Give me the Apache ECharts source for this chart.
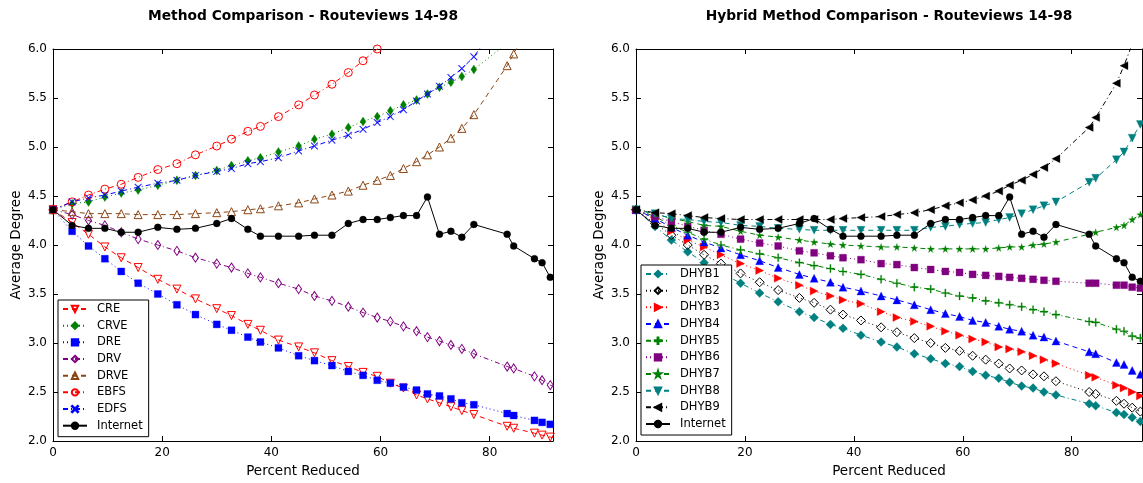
<!DOCTYPE html>
<html>
<head>
<meta charset="utf-8">
<script src="https://cdn.jsdelivr.net/npm/echarts@6/dist/echarts.min.js"></script>
<style>
html,body{margin:0;padding:0;background:#fff;}
#chart{width:1143px;height:483px;}
</style>
</head>
<body>
<div id="chart"></div>
<script>
// Percent reduced (shared x positions)
const X = [0, 3.5, 6.5, 9.5, 12.5, 15.6, 19.2, 22.7, 26.1, 30.0, 32.7, 35.7, 38.0, 41.3, 45.0, 47.9, 51.1, 54.1, 56.8, 59.4, 61.8, 64.2, 66.6, 68.6, 70.8, 72.9, 74.9, 77.1, 83.2, 84.4, 88.2, 89.6, 91.1, 92.6];

const Internet = [4.36, 4.20, 4.17, 4.17, 4.13, 4.13, 4.18, 4.16, 4.17, 4.22, 4.27, 4.16, 4.09, 4.09, 4.09, 4.10, 4.10, 4.22, 4.26, 4.26, 4.28, 4.30, 4.30, 4.49, 4.11, 4.14, 4.08, 4.21, 4.11, 3.99, 3.86, 3.82, 3.67, 3.63];

// Left chart: methods
const CRE  = [4.36, 4.23, 4.11, 3.98, 3.87, 3.77, 3.65, 3.55, 3.45, 3.35, 3.28, 3.19, 3.13, 3.03, 2.96, 2.90, 2.82, 2.76, 2.70, 2.66, 2.59, 2.54, 2.47, 2.43, 2.39, 2.35, 2.31, 2.27, 2.15, 2.13, 2.08, 2.06, 2.04, 2.02];
const CRVE = [4.36, 4.42, 4.44, 4.49, 4.53, 4.56, 4.61, 4.66, 4.71, 4.76, 4.81, 4.86, 4.89, 4.95, 5.01, 5.08, 5.13, 5.20, 5.26, 5.31, 5.37, 5.43, 5.48, 5.54, 5.61, 5.66, 5.72, 5.79, 6.06, 6.15, 6.45, 6.56, 6.70, 6.85];
const DRE  = [4.36, 4.14, 3.99, 3.86, 3.73, 3.61, 3.50, 3.39, 3.29, 3.19, 3.13, 3.06, 3.01, 2.95, 2.87, 2.82, 2.77, 2.71, 2.67, 2.62, 2.59, 2.55, 2.52, 2.48, 2.46, 2.43, 2.39, 2.37, 2.28, 2.26, 2.21, 2.19, 2.17, 2.15];
const DRV  = [4.36, 4.31, 4.25, 4.20, 4.13, 4.06, 4.00, 3.94, 3.87, 3.81, 3.77, 3.71, 3.67, 3.61, 3.55, 3.48, 3.43, 3.37, 3.31, 3.26, 3.22, 3.17, 3.12, 3.06, 3.02, 2.98, 2.94, 2.89, 2.76, 2.74, 2.66, 2.62, 2.57, 2.53];
const DRVE = [4.36, 4.34, 4.32, 4.32, 4.32, 4.31, 4.31, 4.31, 4.32, 4.33, 4.34, 4.36, 4.37, 4.40, 4.43, 4.47, 4.51, 4.55, 4.61, 4.66, 4.71, 4.78, 4.85, 4.92, 5.00, 5.09, 5.19, 5.33, 5.83, 5.95, 6.35, 6.50, 6.70, 6.90];
const EBFS = [4.36, 4.44, 4.51, 4.57, 4.62, 4.69, 4.77, 4.83, 4.92, 5.01, 5.08, 5.16, 5.21, 5.31, 5.43, 5.53, 5.64, 5.76, 5.88, 6.00, 6.12, 6.25, 6.38, 6.50, 6.65, 6.80, 6.95, 7.10, 7.60, 7.70, 8.10, 8.25, 8.40, 8.60];
const EDFS = [4.36, 4.44, 4.48, 4.51, 4.55, 4.59, 4.63, 4.66, 4.71, 4.75, 4.78, 4.83, 4.85, 4.89, 4.96, 5.01, 5.07, 5.12, 5.18, 5.25, 5.31, 5.38, 5.47, 5.54, 5.62, 5.71, 5.80, 5.92, 6.40, 6.50, 6.85, 7.00, 7.15, 7.30];

// Right chart: hybrid methods
const DHYB1 = [4.36, 4.19, 4.05, 3.93, 3.82, 3.72, 3.61, 3.51, 3.42, 3.32, 3.26, 3.19, 3.15, 3.08, 3.01, 2.96, 2.89, 2.84, 2.79, 2.76, 2.71, 2.67, 2.64, 2.60, 2.56, 2.54, 2.50, 2.47, 2.38, 2.36, 2.29, 2.27, 2.24, 2.20];
const DHYB2 = [4.36, 4.22, 4.10, 4.00, 3.90, 3.81, 3.71, 3.62, 3.54, 3.46, 3.41, 3.34, 3.29, 3.23, 3.16, 3.11, 3.05, 3.00, 2.95, 2.92, 2.87, 2.83, 2.79, 2.74, 2.72, 2.68, 2.66, 2.61, 2.50, 2.48, 2.41, 2.38, 2.34, 2.30];
const DHYB3 = [4.36, 4.26, 4.14, 4.05, 3.98, 3.90, 3.81, 3.74, 3.66, 3.59, 3.53, 3.48, 3.44, 3.40, 3.32, 3.26, 3.22, 3.17, 3.12, 3.08, 3.04, 3.01, 2.96, 2.94, 2.91, 2.87, 2.83, 2.79, 2.67, 2.65, 2.57, 2.54, 2.50, 2.46];
const DHYB4 = [4.36, 4.27, 4.18, 4.10, 4.03, 3.97, 3.90, 3.84, 3.77, 3.70, 3.66, 3.62, 3.57, 3.53, 3.48, 3.44, 3.39, 3.34, 3.30, 3.27, 3.23, 3.21, 3.17, 3.14, 3.12, 3.08, 3.06, 3.02, 2.91, 2.89, 2.80, 2.78, 2.72, 2.68];
const DHYB5 = [4.36, 4.29, 4.20, 4.13, 4.06, 4.00, 3.95, 3.91, 3.87, 3.82, 3.79, 3.76, 3.73, 3.70, 3.65, 3.61, 3.57, 3.55, 3.51, 3.48, 3.46, 3.43, 3.41, 3.39, 3.37, 3.34, 3.32, 3.29, 3.22, 3.21, 3.14, 3.12, 3.07, 3.05];
const DHYB6 = [4.36, 4.29, 4.24, 4.19, 4.15, 4.11, 4.06, 4.02, 3.99, 3.94, 3.92, 3.89, 3.87, 3.85, 3.81, 3.80, 3.77, 3.75, 3.73, 3.72, 3.70, 3.69, 3.68, 3.67, 3.66, 3.65, 3.64, 3.63, 3.61, 3.61, 3.59, 3.59, 3.57, 3.56];
const DHYB7 = [4.36, 4.32, 4.27, 4.24, 4.20, 4.19, 4.14, 4.10, 4.08, 4.05, 4.03, 4.01, 4.00, 3.99, 3.98, 3.98, 3.97, 3.96, 3.96, 3.96, 3.96, 3.96, 3.97, 3.98, 3.98, 4.00, 4.01, 4.03, 4.11, 4.13, 4.18, 4.20, 4.26, 4.31];
const DHYB8 = [4.36, 4.32, 4.27, 4.26, 4.24, 4.23, 4.20, 4.19, 4.17, 4.16, 4.15, 4.15, 4.15, 4.15, 4.15, 4.15, 4.15, 4.18, 4.19, 4.21, 4.22, 4.23, 4.26, 4.28, 4.32, 4.36, 4.40, 4.44, 4.64, 4.68, 4.87, 4.95, 5.09, 5.23];
const DHYB9 = [4.36, 4.33, 4.32, 4.30, 4.28, 4.27, 4.26, 4.26, 4.26, 4.26, 4.26, 4.26, 4.27, 4.28, 4.29, 4.31, 4.33, 4.36, 4.40, 4.43, 4.46, 4.50, 4.55, 4.61, 4.66, 4.72, 4.79, 4.88, 5.20, 5.30, 5.65, 5.83, 6.05, 6.30];

const X_TICKS = [0, 20, 40, 60, 80];
const Y_TICKS = [2.0, 2.5, 3.0, 3.5, 4.0, 4.5, 5.0, 5.5, 6.0];

const FONT = 'DejaVu Sans';
const DASH = [5, 4], DOT = [1, 3], DASHDOT = [5, 3, 1, 3], SOLID = 'solid';
const PLUS = 'path://M4.3,0H5.7V4.3H10V5.7H5.7V10H4.3V5.7H0V4.3H4.3Z';
const XMARK = 'path://M0.7,0L5,4.3L9.3,0L10,0.7L5.7,5L10,9.3L9.3,10L5,5.7L0.7,10L0,9.3L4.3,5L0,0.7Z';
const STAR = 'path://M50,0L61,35L98,35L68,57L79,91L50,70L21,91L32,57L2,35L39,35Z';

function pts(vals) { return X.map((x, i) => [x, vals[i]]); }

function mk(name, vals, grid, color, dash, symbol, size, hollow, rotate) {
  return {
    name: name, type: 'line', data: pts(vals),
    xAxisIndex: grid * 2, yAxisIndex: grid * 2,
    symbol: symbol, symbolSize: size, symbolRotate: rotate || 0,
    showAllSymbol: true, clip: true, animation: false,
    lineStyle: { color: color, width: 1, type: dash },
    itemStyle: hollow
      ? { color: 'rgba(255,255,255,0)', borderColor: color, borderWidth: 1 }
      : { color: color, borderColor: color, borderWidth: 0.3 },
    emphasis: { disabled: true }
  };
}

const BROWN = '#8B4513', PURPLE = '#800080', TEAL = '#008080', GREEN = '#008000';

const seriesLeft = [
  mk('CRE', CRE, 0, '#FF0000', DASH, 'triangle', 8, true, 180),
  mk('CRVE', CRVE, 0, GREEN, DOT, 'diamond', [6, 9], false),
  mk('DRE', DRE, 0, '#0000FF', DOT, 'rect', 7, false),
  mk('DRV', DRV, 0, PURPLE, DASHDOT, 'diamond', [6, 9], true),
  mk('DRVE', DRVE, 0, BROWN, DASH, 'triangle', 8, true),
  mk('EBFS', EBFS, 0, '#FF0000', DASHDOT, 'circle', 8, true),
  mk('EDFS', EDFS, 0, '#0000FF', DASHDOT, XMARK, 7, false),
  mk('Internet', Internet, 0, '#000000', SOLID, 'circle', 7, false)
];
const seriesRight = [
  mk('DHYB1', DHYB1, 1, TEAL, DASHDOT, 'diamond', 9, false),
  mk('DHYB2', DHYB2, 1, '#000000', DOT, 'diamond', 9, true),
  mk('DHYB3', DHYB3, 1, '#FF0000', DOT, 'triangle', 8, false, -90),
  mk('DHYB4', DHYB4, 1, '#0000FF', DASH, 'triangle', 8, false),
  mk('DHYB5', DHYB5, 1, GREEN, DASHDOT, PLUS, 8, false),
  mk('DHYB6', DHYB6, 1, PURPLE, DOT, 'rect', 7, false),
  mk('DHYB7', DHYB7, 1, GREEN, DASH, STAR, 7, false),
  mk('DHYB8', DHYB8, 1, TEAL, DASH, 'triangle', 8, false, 180),
  mk('DHYB9', DHYB9, 1, '#000000', DASHDOT, 'triangle', 8, false, 90),
  Object.assign(mk('Internet', Internet, 1, '#000000', SOLID, 'circle', 7, false), { name: 'Internet ' })
];

const lineAx = { onZero: false, lineStyle: { color: '#000', width: 1 } };
const tickAx = { inside: true, length: 5, lineStyle: { color: '#000', width: 1 } };

function xAxes(grid, max) {
  const base = { gridIndex: grid, type: 'value', min: 0, max: max, interval: 20,
    axisLine: lineAx, axisTick: tickAx, splitLine: { show: false } };
  return [
    Object.assign({}, base, { position: 'bottom',
      axisLabel: { color: '#000', fontFamily: FONT, fontSize: 12, margin: 6, showMaxLabel: false,
        formatter: v => X_TICKS.indexOf(v) >= 0 ? String(v) : '' },
      name: 'Percent Reduced', nameLocation: 'middle', nameGap: 23,
      nameTextStyle: { color: '#000', fontFamily: FONT, fontSize: 13.5 } }),
    Object.assign({}, base, { position: 'top', axisLabel: { show: false } })
  ];
}
function yAxes(grid) {
  const base = { gridIndex: grid, type: 'value', min: 2, max: 6, interval: 0.5,
    axisLine: lineAx, axisTick: tickAx, splitLine: { show: false } };
  return [
    Object.assign({}, base, { position: 'left',
      axisLabel: { color: '#000', fontFamily: FONT, fontSize: 12, margin: 6,
        formatter: v => Y_TICKS.indexOf(v) >= 0 ? v.toFixed(1) : '' },
      name: 'Average Degree', nameLocation: 'middle', nameGap: 30,
      nameTextStyle: { color: '#000', fontFamily: FONT, fontSize: 13.5 } }),
    Object.assign({}, base, { position: 'right', axisLabel: { show: false } })
  ];
}

const legendBase = {
  orient: 'vertical', backgroundColor: '#fff', borderColor: '#000', borderWidth: 1,
  borderRadius: 0, itemWidth: 24, itemHeight: 8, itemGap: 4.67,
  padding: [3, 6, 5, 4],
  textStyle: { color: '#000', fontFamily: FONT, fontSize: 11.5, lineHeight: 12, padding: [0, 0, 0, 5] },
  selectedMode: false
};

const option = {
  backgroundColor: '#fff',
  animation: false,
  title: [
    { text: 'Method Comparison - Routeviews 14-98', left: 303, top: 9, textAlign: 'center', padding: 0,
      textStyle: { fontFamily: FONT, fontSize: 13.8, fontWeight: 'bold', color: '#000' } },
    { text: 'Hybrid Method Comparison - Routeviews 14-98', left: 889, top: 9, textAlign: 'center', padding: 0,
      textStyle: { fontFamily: FONT, fontSize: 13.8, fontWeight: 'bold', color: '#000' } }
  ],
  legend: [
    Object.assign({}, legendBase, { left: 58, top: 300, data: seriesLeft.map(s => s.name) }),
    Object.assign({}, legendBase, { left: 641, top: 265, data: seriesRight.map(s => s.name),
      formatter: n => n.trim() })
  ],
  grid: [
    { left: 53, right: 590, top: 49, bottom: 42, containLabel: false },
    { left: 636, right: 1, top: 49, bottom: 42, containLabel: false }
  ],
  xAxis: xAxes(0, 91.6).concat(xAxes(1, 92.9)),
  yAxis: yAxes(0).concat(yAxes(1)),
  series: seriesLeft.concat(seriesRight)
};

const chart = echarts.init(document.getElementById('chart'), null, { renderer: 'canvas' });
chart.setOption(option);
</script>
</body>
</html>
